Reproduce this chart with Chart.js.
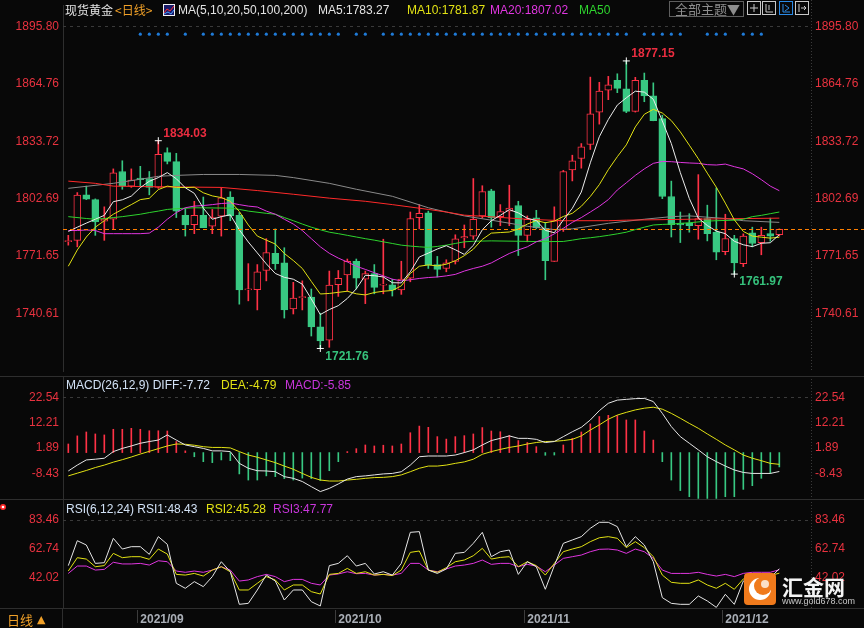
<!DOCTYPE html>
<html>
<head>
<meta charset="utf-8">
<title>现货黄金 日线</title>
<script src="https://cdn.jsdelivr.net/npm/chart.js@4.4.1/dist/chart.umd.min.js"></script>
<style>
  html, body { margin: 0; padding: 0; background: #080808; }
  #box { position: relative; width: 864px; height: 628px; background: #080808; overflow: hidden; }
  #box canvas { position: absolute; left: 0; }
</style>
</head>
<body>
<div id="box">
  <canvas id="kline" width="864" height="376" style="top:0;width:864px;height:376px"></canvas>
  <canvas id="macd" width="864" height="123" style="top:376px;width:864px;height:123px"></canvas>
  <canvas id="rsi" width="864" height="129" style="top:499px;width:864px;height:129px"></canvas>
</div>
<script>
// daily candles, 2021-08-20 .. 2021-12-09
var opens = [1779.5,1780.2,1804.8,1802.2,1790.6,1791.6,1817.4,1809.5,1813.9,1813.6,
  1808.8,1827.6,1822.7,1793.7,1788.7,1793.7,1787.8,1793.2,1803.6,1793.7,
  1753.4,1753.6,1763.9,1773.2,1768.0,1743.1,1749.2,1749.6,1733.4,1726.3,
  1756.2,1761.5,1768.9,1759.2,1762.2,1756.0,1756.2,1753.4,1759.7,1792.5,
  1795.1,1767.1,1765.0,1768.8,1781.5,1782.5,1793.4,1806.9,1793.0,1796.0,
  1799.0,1782.9,1792.3,1786.7,1768.8,1786.0,1818.3,1824.4,1832.0,1849.5,
  1861.4,1866.7,1862.1,1849.9,1866.7,1858.3,1846.0,1803.9,1789.5,1789.5,
  1788.1,1792.0,1784.6,1774.1,1781.1,1767.6,1784.3,1779.0,1783.8,1783.2];
var highs = [1782.9,1806.0,1809.5,1802.6,1798.3,1818.8,1823.2,1818.8,1820.2,1817.4,
  1834.03,1830.2,1827.2,1797.3,1801.3,1803.6,1796.9,1808.7,1806.5,1795.2,
  1767.6,1767.1,1781.1,1786.4,1776.2,1757.5,1758.3,1753.9,1740.8,1763.6,
  1763.9,1770.1,1770.1,1763.6,1767.1,1780.8,1759.2,1768.9,1795.5,1799.5,
  1796.0,1771.5,1769.7,1783.2,1788.5,1813.6,1809.7,1807.8,1799.5,1810.0,
  1801.3,1793.4,1796.4,1789.9,1798.3,1818.0,1826.2,1832.5,1868.4,1865.6,
  1868.8,1870.2,1877.15,1868.3,1870.6,1865.3,1847.8,1812.2,1795.5,1794.6,
  1815.7,1799.2,1808.6,1794.3,1782.9,1783.7,1787.3,1787.3,1792.2,1786.4];
var lows = [1777.6,1776.7,1802.2,1782.9,1780.2,1786.4,1807.8,1808.8,1809.2,1804.8,
  1808.3,1821.5,1792.5,1782.5,1783.8,1787.1,1783.8,1782.5,1790.8,1745.7,
  1747.5,1742.6,1758.3,1764.5,1738.2,1740.4,1742.6,1728.5,1721.76,1722.4,
  1749.9,1752.7,1753.9,1746.0,1751.3,1751.3,1750.1,1751.0,1757.8,1786.4,
  1765.0,1760.4,1763.2,1767.4,1776.2,1780.8,1792.3,1787.3,1788.1,1788.1,
  1772.0,1779.4,1786.4,1758.9,1768.8,1785.0,1812.3,1819.2,1829.3,1843.0,
  1856.2,1860.0,1849.2,1849.5,1855.1,1844.8,1802.7,1782.0,1779.0,1784.6,
  1780.8,1779.9,1769.7,1772.4,1761.97,1766.0,1776.7,1772.4,1779.7,1782.5];
var closes = [1779.9,1804.6,1802.5,1790.2,1791.6,1816.7,1809.5,1812.7,1813.0,1808.8,
  1826.7,1822.9,1796.0,1788.5,1793.7,1787.1,1792.5,1803.2,1793.4,1753.4,
  1753.9,1763.2,1773.6,1767.6,1742.6,1749.0,1749.7,1733.4,1725.9,1756.0,
  1759.7,1768.9,1759.7,1762.2,1754.8,1756.4,1753.4,1759.2,1792.0,1794.8,
  1767.1,1764.5,1768.0,1781.0,1782.2,1791.6,1806.5,1792.5,1795.7,1797.6,
  1782.9,1791.6,1786.9,1769.2,1790.8,1817.4,1823.2,1830.7,1848.6,1860.9,
  1864.2,1862.3,1849.9,1866.7,1858.3,1844.8,1803.9,1788.7,1788.5,1788.1,
  1792.0,1783.8,1773.8,1781.1,1768.0,1782.5,1778.5,1782.9,1782.5,1786.2];

// moving averages
var ma5 = [1785.0,1787.3,1789.5,1791.6,1793.7,1801.1,1802.1,1804.1,1808.7,1812.1,
  1814.1,1816.8,1813.5,1808.6,1805.6,1797.6,1791.6,1793.0,1794.0,1785.9,
  1779.3,1773.4,1767.5,1762.3,1760.2,1759.2,1756.5,1748.5,1740.1,1742.8,
  1744.9,1748.8,1754.0,1761.3,1761.1,1760.4,1757.3,1757.2,1763.2,1771.2,
  1773.3,1775.5,1777.3,1775.1,1772.6,1777.5,1785.9,1790.8,1793.7,1796.8,
  1795.0,1792.1,1790.9,1785.6,1784.3,1791.2,1797.5,1806.3,1822.1,1836.2,
  1845.5,1853.3,1857.2,1860.8,1860.3,1856.4,1844.7,1832.5,1816.8,1802.8,
  1792.2,1788.2,1785.2,1783.8,1779.7,1777.8,1776.8,1778.6,1778.9,1783.27];
var ma10 = [1766.2,1775.0,1782.0,1787.3,1790.8,1794.3,1796.9,1799.5,1802.2,1802.9,
  1807.6,1809.5,1808.8,1808.7,1808.9,1805.9,1804.2,1803.3,1801.3,1795.8,
  1788.5,1782.5,1780.3,1778.2,1773.1,1769.3,1765.0,1758.0,1751.2,1751.5,
  1752.1,1752.7,1751.3,1750.7,1752.0,1752.7,1753.1,1755.6,1762.3,1766.2,
  1766.9,1766.4,1767.3,1769.2,1771.9,1775.4,1780.7,1784.1,1784.4,1784.7,
  1786.3,1789.0,1790.9,1789.7,1790.6,1793.1,1794.8,1798.6,1803.9,1810.3,
  1818.4,1825.4,1831.8,1841.5,1848.3,1851.0,1849.0,1844.9,1838.8,1831.6,
  1824.3,1816.5,1808.9,1800.3,1791.3,1785.0,1782.5,1781.9,1781.4,1781.87];
var ma20 = [1785.5,1785.5,1785.8,1785.5,1783.8,1783.8,1783.8,1783.8,1783.8,1784.1,
  1787.3,1791.6,1795.2,1797.8,1798.7,1799.0,1799.5,1800.1,1800.4,1799.5,
  1798.7,1798.2,1796.0,1794.3,1791.6,1789.0,1785.5,1781.1,1776.7,1773.2,
  1770.6,1768.5,1766.2,1764.5,1762.7,1761.0,1759.2,1758.3,1758.9,1759.6,
  1760.1,1760.4,1761.0,1761.8,1763.6,1765.0,1766.2,1768.0,1770.6,1773.1,
  1775.0,1776.7,1779.4,1781.1,1783.7,1786.7,1789.9,1792.5,1795.5,1798.6,
  1802.2,1807.4,1811.3,1815.3,1818.8,1821.8,1822.8,1822.7,1822.3,1822.0,
  1821.8,1821.1,1820.9,1821.4,1820.0,1818.8,1816.2,1813.0,1809.5,1807.02];
// slow averages read at [candle index, value]
var ma50 = [[0,1793.0],[2,1792.0],[3,1791.6],[4,1792.0],[5,1792.5],[6,1793.0],[8,1794.3],
  [9,1795.2],[10,1796.0],[11,1796.9],[12,1797.3],[14,1797.8],[18,1797.6],[19,1796.9],
  [20,1796.0],[22,1794.8],[23,1794.3],[24,1792.5],[25,1790.8],[26,1789.0],[27,1787.3],
  [28,1785.9],[29,1784.6],[30,1783.8],[31,1782.9],[32,1782.0],[33,1781.1],[34,1780.3],
  [35,1779.4],[36,1778.5],[37,1777.6],[38,1777.1],[39,1776.7],[40,1776.4],[41,1776.9],
  [42,1777.6],[43,1778.5],[44,1779.4],[45,1779.7],[47,1779.9],[53,1779.5],[55,1779.6],
  [56,1780.3],[57,1781.1],[58,1781.6],[59,1782.2],[60,1782.9],[61,1783.7],[62,1784.6],
  [63,1786.0],[64,1787.3],[65,1788.5],[66,1788.8],[67,1789.0],[69,1789.7],[71,1790.6],
  [72,1790.8],[74,1791.1],[75,1791.6],[76,1793.0],[77,1793.7],[78,1794.6],[79,1795.5]];
var ma100 = [[0,1812.2],[3,1811.0],[5,1809.5],[9,1809.2],[17,1808.8],[21,1807.1],[25,1805.1],
  [29,1803.0],[33,1801.3],[36,1799.5],[40,1796.9],[42,1795.5],[44,1793.8],[47,1792.9],
  [51,1791.6],[55,1790.8],[60,1790.8],[62,1791.1],[69,1791.6],[79,1792.2]];
var ma200 = [[0,1808.3],[5,1811.0],[8,1813.2],[10,1814.8],[12,1815.3],[15,1815.8],[19,1815.8],
  [23,1815.3],[25,1814.1],[29,1811.0],[32,1807.8],[36,1804.0],[40,1797.8],[42,1795.5],
  [44,1793.4],[47,1791.1],[51,1787.8],[54,1786.0],[56,1786.4],[60,1789.4],[64,1791.6],
  [67,1793.0],[69,1793.4],[73,1792.0],[75,1790.8],[79,1789.9]];

// MACD(26,12,9)
var macdHist = [3.5,6.8,8.4,7.6,7.2,9.5,9.5,9.9,9.5,8.9,
  8.9,8.8,4.5,0.7,-1.7,-3.7,-4.1,-3.0,-3.3,-8.7,
  -11.2,-11.2,-9.5,-9.8,-10.6,-11.2,-10.4,-10.6,-11.4,-7.4,
  -3.7,0.4,1.6,3.1,2.7,3.0,2.7,3.5,8.1,10.8,
  10.3,6.5,5.5,6.5,6.9,7.6,10.2,8.8,8.5,7.0,
  4.9,4.1,2.4,-1.1,-1.0,3.1,5.8,8.4,11.7,14.7,
  15.2,15.1,13.3,13.3,8.8,5.1,-3.7,-11.2,-15.5,-18.0,
  -18.7,-18.7,-18.7,-18.0,-18.0,-15.0,-13.5,-10.5,-8.5,-5.85];
var macdDiff = [-7.5,-5.1,-3.0,-2.7,-2.3,0.4,1.7,2.7,3.8,4.5,
  5.1,7.2,5.1,3.1,2.4,1.7,0.7,0.7,0.4,-4.4,
  -6.4,-7.4,-7.5,-7.8,-9.8,-10.5,-11.8,-13.9,-15.9,-14.6,
  -12.8,-10.8,-9.8,-9.5,-9.1,-8.7,-8.5,-7.8,-5.1,-1.7,
  -1.4,-1.4,-1.4,-1.0,0.0,1.1,3.1,4.9,5.8,6.8,
  5.8,5.8,5.4,4.1,4.5,6.5,8.5,10.3,13.3,17.1,
  20.1,21.4,21.7,22.0,22.1,20.8,16.0,10.6,6.5,3.8,
  1.1,-1.7,-3.7,-5.5,-7.1,-8.1,-8.5,-8.5,-8.5,-7.72];
var macdDea = [-9.5,-8.4,-7.3,-6.1,-5.1,-3.9,-2.9,-1.8,-0.6,0.5,
  1.6,2.7,3.5,3.4,3.0,2.4,2.1,2.1,1.9,0.4,
  -1.0,-1.9,-3.0,-4.1,-5.5,-6.8,-8.5,-10.1,-11.2,-11.6,
  -11.6,-11.2,-10.9,-10.5,-10.2,-10.1,-9.8,-9.1,-7.8,-6.4,
  -5.5,-5.5,-5.1,-4.4,-3.8,-2.7,-0.7,0.4,1.3,2.1,
  2.7,3.5,4.1,4.5,4.6,4.9,5.4,6.8,9.2,11.3,
  13.6,15.3,16.4,17.4,18.1,18.5,17.7,16.0,14.0,11.9,
  9.9,7.6,5.4,3.1,1.1,-1.0,-2.3,-3.3,-4.4,-4.79];

// RSI(6,12,24)
var rsi1 = [50.7,68.6,65.5,52.3,52.8,70.3,62.6,64.3,64.3,58.8,
  71.5,66.0,38.0,34.4,39.2,35.6,42.8,53.5,46.3,22.9,
  23.6,33.2,43.9,39.6,26.0,33.2,33.2,24.8,21.7,50.7,
  52.3,57.8,50.4,52.3,44.7,46.3,43.9,52.3,74.6,75.1,
  47.5,45.1,48.3,59.5,60.2,66.7,74.6,57.1,60.7,61.9,
  44.4,53.5,49.9,33.7,50.7,66.7,69.1,71.5,77.5,81.8,
  81.8,78.7,64.3,71.5,65.5,53.5,27.7,23.6,22.9,22.9,
  28.9,25.3,20.7,30.1,22.9,39.6,43.9,42.8,42.0,48.43];
var rsi2 = [46.8,56.4,55.4,49.9,50.7,59.5,56.4,57.1,57.1,55.2,
  62.6,59.0,44.4,43.9,45.1,43.2,47.5,49.9,46.3,33.2,
  33.2,38.0,42.8,40.4,33.2,36.8,36.8,32.0,30.3,44.4,
  45.1,48.7,45.1,46.3,43.9,44.4,43.5,47.5,60.2,61.2,
  47.5,45.9,49.2,53.5,54.7,57.8,63.1,55.4,56.6,57.1,
  49.9,53.5,50.7,43.9,52.3,60.7,62.6,64.3,67.9,70.7,
  71.5,70.3,63.6,67.9,63.6,57.1,43.9,38.7,38.0,38.0,
  40.4,36.8,34.4,38.0,33.7,41.1,44.4,43.5,43.5,45.28];
var rsi3 = [45.1,50.4,50.4,47.5,48.0,53.1,51.9,51.9,52.3,51.1,
  54.2,53.5,46.8,45.9,46.8,45.9,47.5,49.9,47.5,39.6,
  40.4,42.8,44.4,42.8,39.2,40.8,40.8,38.0,36.8,43.9,
  44.7,46.3,44.9,45.1,43.9,44.4,43.9,45.1,52.3,52.3,
  47.5,46.3,48.3,50.4,51.1,52.3,54.7,51.6,52.3,52.3,
  49.9,51.6,50.4,46.3,51.1,55.9,57.1,58.3,60.7,62.4,
  62.6,61.9,59.5,62.6,60.7,55.9,47.5,45.1,45.1,45.1,
  45.9,44.4,43.2,44.4,42.8,45.1,45.9,45.9,45.9,47.77];

// axis ticks and marks
var priceTicks = [1895.80, 1864.76, 1833.72, 1802.69, 1771.65, 1740.61];
var macdTicks = [22.54, 12.21, 1.89, -8.43];
var rsiTicks = [83.46, 62.74, 42.02];
var monthIdx = [8, 30, 51, 73];
var monthLabels = ['2021/09', '2021/10', '2021/11', '2021/12'];
var extremes = [[10, 'H'], [28, 'L'], [62, 'H'], [74, 'L']];
var eventIdx = [8,9,10,11,13,15,16,17,18,19,20,21,22,23,24,25,26,27,28,29,30,32,33,
  35,36,37,38,39,40,41,42,43,44,45,46,47,48,49,50,51,52,53,54,55,56,57,58,59,60,61,62,
  64,65,66,67,68,71,72,73,75,76,77];

var FONT = '"Liberation Sans", Arial, "Noto Sans CJK SC", sans-serif';
var CJK = '"Noto Sans CJK SC", "Liberation Sans", sans-serif';
var BG = '#080808', RED = '#ff3246', GREEN = '#38c882', AXIS_RED = '#e8323f';
var SEP = '#2e2e2e', WHITE = '#e6e6e6', YELLOW = '#e2e214', MAGENTA = '#e036e0';
var X_MIN = -0.59, X_MAX = 82.52;

Chart.defaults.font.family = FONT;
Chart.defaults.animation = false;
Chart.defaults.events = [];
Chart.defaults.plugins.legend.display = false;
Chart.defaults.plugins.tooltip.enabled = false;

function pts(arr) { return arr.map(function (v, i) { return {x: i, y: v}; }); }
function pairPts(arr) { return arr.map(function (p) { return {x: p[0], y: p[1]}; }); }
function last(arr) { return arr[arr.length - 1]; }
function up(i) { return closes[i] >= opens[i]; }

function sideAxis(pos, vals, min, max) {
  return {
    type: 'linear', position: pos, min: min, max: max,
    grid: {display: false, drawTicks: false},
    border: {display: pos === 'left', color: SEP},
    ticks: {color: AXIS_RED, font: {size: 12}, padding: 4, autoSkip: false,
      callback: function (v) { return v.toFixed(2); }},
    afterBuildTicks: function (s) { s.ticks = vals.map(function (v) { return {value: v}; }); },
    afterFit: function (s) { s.width = pos === 'left' ? 63 : 53; s.paddingTop = 0; s.paddingBottom = 0; }
  };
}
var xHidden = {type: 'linear', min: X_MIN, max: X_MAX, offset: false, display: false};

function lineSet(data, color) {
  return {type: 'line', data: data, borderColor: color, borderWidth: 1, pointRadius: 0,
    tension: 0, order: 1, xAxisID: 'x', yAxisID: 'y'};
}

function text(ctx, x, y, s, color, font) {
  ctx.font = font || ('12px ' + FONT);
  ctx.fillStyle = color;
  ctx.textBaseline = 'middle';
  ctx.textAlign = 'left';
  ctx.fillText(s, x, y);
}

// dashed top grid line, dotted right border and panel separator
function framePlugin(ticks, topLine) {
  return {
    id: 'frame',
    beforeDatasetsDraw: function (chart) {
      var ctx = chart.ctx, a = chart.chartArea, y = chart.scales.y;
      ctx.save();
      ctx.lineWidth = 1;
      ctx.strokeStyle = '#3a3a3a';
      ctx.setLineDash([3, 4]);
      var gy = Math.round(y.getPixelForValue(ticks[0])) + 0.5;
      ctx.beginPath(); ctx.moveTo(a.left, gy); ctx.lineTo(a.right, gy); ctx.stroke();
      ctx.setLineDash([1, 2]);
      ctx.beginPath(); ctx.moveTo(a.right + 0.5, 0); ctx.lineTo(a.right + 0.5, a.bottom); ctx.stroke();
      ctx.setLineDash([]);
      if (topLine) {
        ctx.strokeStyle = SEP;
        ctx.beginPath(); ctx.moveTo(0, 0.5); ctx.lineTo(chart.width, 0.5); ctx.stroke();
      }
      ctx.restore();
    }
  };
}

// ---------- price panel ----------
var wicks = closes.map(function (c, i) { return {x: i, y: [lows[i], highs[i]]}; });
var bodies = closes.map(function (c, i) { return {x: i, y: [opens[i], c]}; });
var markPts = extremes.map(function (e) {
  var i = e[0];
  return {x: i, y: e[1] === 'H' ? highs[i] : lows[i]};
});
var DOT_LEVEL = 1891.6;
var dotPts = eventIdx.map(function (i) { return {x: i, y: DOT_LEVEL}; });

var priceDecor = {
  id: 'priceDecor',
  afterDatasetsDraw: function (chart) {
    var ctx = chart.ctx, x = chart.scales.x, y = chart.scales.y;
    ctx.save();
    // high / low labels
    extremes.forEach(function (e) {
      var i = e[0], hi = e[1] === 'H';
      var v = hi ? highs[i] : lows[i];
      var px = x.getPixelForValue(i), py = y.getPixelForValue(v);
      text(ctx, px + 5, hi ? py - 7 : py + 8, v.toFixed(2), hi ? '#ec2d40' : '#36c27c', 'bold 12px ' + FONT);
    });
    ctx.restore();
  },
  afterDraw: function (chart) {
    var ctx = chart.ctx, a = chart.chartArea, y = chart.scales.y;
    ctx.save();
    // last close
    var yc = Math.round(y.getPixelForValue(last(closes))) + 0.5;
    ctx.strokeStyle = '#ff7f00'; ctx.lineWidth = 1.2; ctx.setLineDash([4, 3]);
    ctx.beginPath(); ctx.moveTo(a.left, yc); ctx.lineTo(chart.width, yc); ctx.stroke();
    ctx.setLineDash([]);
    ctx.lineWidth = 1;
    text(ctx, 65, 10.5, '现货黄金', '#e4e4e4', '12px ' + CJK);
    text(ctx, 115, 10.5, '<日线>', '#f0a028', '12px ' + CJK);
    // small chart icon
    ctx.fillStyle = '#f2f2f2'; ctx.fillRect(163, 4, 12, 12);
    ctx.fillStyle = '#1a1a6a'; ctx.fillRect(164, 5, 10, 10);
    ctx.strokeStyle = '#ff3030';
    ctx.beginPath(); ctx.moveTo(164, 13); ctx.lineTo(167, 9); ctx.lineTo(170, 11); ctx.lineTo(174, 6); ctx.stroke();
    ctx.strokeStyle = '#4aa0ff';
    ctx.beginPath(); ctx.moveTo(164, 14); ctx.lineTo(168, 12); ctx.lineTo(171, 14); ctx.lineTo(174, 10); ctx.stroke();
    text(ctx, 178, 10.5, 'MA(5,10,20,50,100,200)', '#e4e4e4');
    text(ctx, 318, 10.5, 'MA5:' + last(ma5).toFixed(2), '#e4e4e4');
    text(ctx, 407, 10.5, 'MA10:' + last(ma10).toFixed(2), YELLOW);
    text(ctx, 490, 10.5, 'MA20:' + last(ma20).toFixed(2), MAGENTA);
    text(ctx, 579, 10.5, 'MA50', '#2ed42e');
    // theme box and tool icons
    ctx.strokeStyle = '#5e5e5e';
    ctx.strokeRect(669.5, 1.5, 74, 15);
    text(ctx, 675, 9.5, '全部主题▼', '#8c8c8c', '13px ' + CJK);
    [747, 762, 779, 795].forEach(function (ix, k) {
      ctx.strokeStyle = k === 2 ? '#2a8ae6' : '#c8c8c8';
      ctx.strokeRect(ix + 0.5, 1.5, 13, 13);
      ctx.beginPath();
      if (k === 0) { ctx.moveTo(ix + 7, 4); ctx.lineTo(ix + 7, 12); ctx.moveTo(ix + 3, 8); ctx.lineTo(ix + 11, 8); }
      if (k === 1) { ctx.moveTo(ix + 4, 4); ctx.lineTo(ix + 4, 12); ctx.lineTo(ix + 11, 12); ctx.moveTo(ix + 7, 5); ctx.lineTo(ix + 7, 10); }
      if (k === 2) { ctx.moveTo(ix + 4, 4); ctx.lineTo(ix + 4, 12); ctx.lineTo(ix + 11, 12); ctx.moveTo(ix + 6, 5); ctx.lineTo(ix + 10, 8); ctx.lineTo(ix + 6, 11); }
      if (k === 3) { ctx.moveTo(ix + 4, 4); ctx.lineTo(ix + 4, 12); ctx.moveTo(ix + 6, 8); ctx.lineTo(ix + 11, 8); ctx.moveTo(ix + 9, 6); ctx.lineTo(ix + 11, 8); ctx.lineTo(ix + 9, 10); }
      ctx.stroke();
    });
    ctx.restore();
  }
};

new Chart(document.getElementById('kline'), {
  type: 'bar',
  data: {
    datasets: [
      {type: 'line', data: markPts, showLine: false, pointStyle: 'cross', pointRadius: 3.5,
        pointBorderColor: '#ffffff', pointBorderWidth: 1, order: 0, xAxisID: 'x', yAxisID: 'y'},
      {type: 'line', data: dotPts, showLine: false, pointRadius: 1.6, pointBackgroundColor: '#1f7bd8',
        pointBorderWidth: 0, order: 0, xAxisID: 'x', yAxisID: 'y'},
      lineSet(pts(ma5), '#ececec'),
      lineSet(pts(ma10), YELLOW),
      lineSet(pts(ma20), MAGENTA),
      lineSet(pairPts(ma50), '#2ed42e'),
      lineSet(pairPts(ma100), '#ff2a2a'),
      lineSet(pairPts(ma200), '#8a8a8a'),
      {data: bodies, grouped: false, barThickness: 7, minBarLength: 1, borderSkipped: false, borderWidth: 1,
        backgroundColor: function (c) { return up(c.dataIndex) ? BG : GREEN; },
        borderColor: function (c) { return up(c.dataIndex) ? RED : GREEN; },
        order: 2, xAxisID: 'x', yAxisID: 'y'},
      {data: wicks, grouped: false, barThickness: 1, borderWidth: 0,
        backgroundColor: function (c) { return up(c.dataIndex) ? RED : GREEN; },
        order: 3, xAxisID: 'x', yAxisID: 'y'}
    ]
  },
  options: {
    responsive: false,
    layout: {padding: 0},
    scales: {
      x: xHidden,
      y: sideAxis('left', priceTicks, 1709.59, 1907.37),
      yr: sideAxis('right', priceTicks, 1709.59, 1907.37)
    }
  },
  plugins: [framePlugin(priceTicks, false), priceDecor]
});

// ---------- MACD panel ----------
new Chart(document.getElementById('macd'), {
  type: 'bar',
  data: {
    datasets: [
      lineSet(pts(macdDiff), WHITE),
      lineSet(pts(macdDea), YELLOW),
      {data: pts(macdHist), grouped: false, barThickness: 1, borderWidth: 0,
        backgroundColor: function (c) { return macdHist[c.dataIndex] >= 0 ? RED : GREEN; },
        order: 2, xAxisID: 'x', yAxisID: 'y'}
    ]
  },
  options: {
    responsive: false,
    layout: {padding: 0},
    scales: {
      x: xHidden,
      y: sideAxis('left', macdTicks, -18.93, 31.23),
      yr: sideAxis('right', macdTicks, -18.93, 31.23)
    }
  },
  plugins: [framePlugin(macdTicks, true), {
    id: 'macdHead',
    afterDraw: function (chart) {
      var ctx = chart.ctx;
      ctx.save();
      text(ctx, 66, 9.5, 'MACD(26,12,9) DIFF:' + last(macdDiff).toFixed(2), '#d2e2f6');
      text(ctx, 221, 9.5, 'DEA:' + last(macdDea).toFixed(2), YELLOW);
      text(ctx, 285, 9.5, 'MACD:' + last(macdHist).toFixed(2), '#c936dc');
      ctx.restore();
    }
  }]
});

// ---------- RSI panel + date axis ----------
new Chart(document.getElementById('rsi'), {
  type: 'line',
  data: {
    datasets: [
      lineSet(pts(rsi1), WHITE),
      lineSet(pts(rsi2), YELLOW),
      lineSet(pts(rsi3), MAGENTA)
    ]
  },
  options: {
    responsive: false,
    layout: {padding: 0},
    scales: {
      x: {
        type: 'linear', min: X_MIN, max: X_MAX, offset: false, position: 'bottom',
        grid: {display: false, drawTicks: false}, border: {display: false},
        ticks: {align: 'start', padding: 4, color: '#a9aeb6', autoSkip: false, maxRotation: 0,
          font: {size: 12, weight: 'bold'},
          callback: function (v, i) { return monthLabels[i]; }},
        afterBuildTicks: function (s) { s.ticks = monthIdx.map(function (v) { return {value: v}; }); },
        afterFit: function (s) { s.height = 20; s.paddingLeft = 0; s.paddingRight = 0; }
      },
      y: sideAxis('left', rsiTicks, 20.26, 98.54),
      yr: sideAxis('right', rsiTicks, 20.26, 98.54)
    }
  },
  plugins: [framePlugin(rsiTicks, true), {
    id: 'rsiDecor',
    afterDraw: function (chart) {
      var ctx = chart.ctx, a = chart.chartArea, x = chart.scales.x;
      ctx.save();
      text(ctx, 66, 10.5, 'RSI(6,12,24) RSI1:' + last(rsi1).toFixed(2), '#d2e2f6');
      text(ctx, 206, 10.5, 'RSI2:' + last(rsi2).toFixed(2), YELLOW);
      text(ctx, 273, 10.5, 'RSI3:' + last(rsi3).toFixed(2), '#c936dc');
      // bottom frame and month marks
      ctx.strokeStyle = SEP; ctx.lineWidth = 1;
      ctx.beginPath();
      ctx.moveTo(0, a.bottom + 0.5); ctx.lineTo(chart.width, a.bottom + 0.5);
      ctx.moveTo(a.left - 0.5, a.bottom); ctx.lineTo(a.left - 0.5, chart.height);
      ctx.stroke();
      ctx.strokeStyle = '#3c3c3c';
      monthIdx.forEach(function (i) {
        var px = Math.round(x.getPixelForValue(i)) - 2.5;
        ctx.beginPath(); ctx.moveTo(px, a.bottom + 2); ctx.lineTo(px, a.bottom + 15); ctx.stroke();
      });
      text(ctx, 7, 121, '日线', '#f0a028', '13px ' + CJK);
      text(ctx, 37, 121, '▲', '#f0a028', '11px "DejaVu Sans", sans-serif');
      // small marker at the left edge
      ctx.fillStyle = '#ff2a2a';
      ctx.beginPath(); ctx.arc(3, 8, 3, 0, Math.PI * 2); ctx.fill();
      ctx.fillStyle = '#ffffff';
      ctx.beginPath(); ctx.arc(3, 8, 1.3, 0, Math.PI * 2); ctx.fill();
      // watermark logo
      ctx.fillStyle = '#f07a1c';
      ctx.beginPath();
      if (ctx.roundRect) { ctx.roundRect(744, 74, 32, 32, 4); } else { ctx.rect(744, 74, 32, 32); }
      ctx.fill();
      ctx.fillStyle = '#ffffff';
      ctx.beginPath(); ctx.arc(760, 90, 11, 0, Math.PI * 2); ctx.fill();
      ctx.fillStyle = '#f07a1c';
      ctx.beginPath(); ctx.arc(763, 87, 9, 0, Math.PI * 2); ctx.fill();
      ctx.fillStyle = '#fbe0c8';
      ctx.beginPath(); ctx.arc(765, 85, 4, 0, Math.PI * 2); ctx.fill();
      text(ctx, 782, 88, '汇金网', '#f4f4f4', 'bold 21px ' + CJK);
      text(ctx, 782, 103, 'www.gold678.com', '#c8c8c8', '9px ' + FONT);
      ctx.restore();
    }
  }]
});
</script>
</body>
</html>
